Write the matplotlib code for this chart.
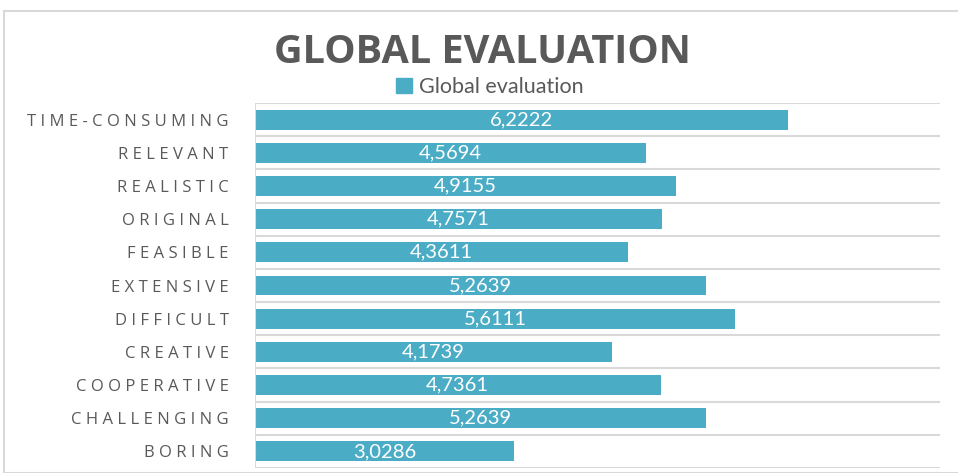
import matplotlib
matplotlib.use("Agg")
import matplotlib.pyplot as plt
from matplotlib.patches import Rectangle

categories = ["BORING", "CHALLENGING", "COOPERATIVE", "CREATIVE", "DIFFICULT",
              "EXTENSIVE", "FEASIBLE", "ORIGINAL", "REALISTIC", "RELEVANT",
              "TIME-CONSUMING"]
values = [3.0286, 5.2639, 4.7361, 4.1739, 5.6111, 5.2639, 4.3611, 4.7571,
          4.9155, 4.5694, 6.2222]
series_name = "Global evaluation"
title = "GLOBAL EVALUATION"

bar_color = "#4BACC6"
text_gray = "#595959"
grid_gray = "#D9D9D9"

fig = plt.figure(figsize=(9.58, 4.73), dpi=100)
ax = fig.add_axes([255/958, 1-468/473, 685/958, 365/473])

y = list(range(len(categories)))
ax.barh(y, values, height=0.6, color=bar_color, zorder=2)
ax.set_xlim(0, 8)
ax.set_ylim(-0.5, len(categories)-0.5)

for i in range(len(categories)+1):
    ax.axhline(i-0.5, color=grid_gray, lw=1.5, zorder=1)

for s in ax.spines.values():
    s.set_visible(False)
ax.axvline(0, color=grid_gray, lw=1.5, zorder=3)

ax.set_xticks([])
ax.set_yticks(y)
ax.set_yticklabels([" ".join(list(c)) for c in categories],
                   fontfamily="Open Sans", fontsize=12, color=text_gray)
ax.tick_params(axis="y", length=0, pad=19)

for yi, v in zip(y, values):
    ax.text(v/2, yi, f"{v:.4f}".replace(".", ","), ha="center", va="center",
            color="white", fontsize=14.5, fontfamily="Lato", zorder=4)

fig.text(0.504, 0.888, title, ha="center", va="center", fontsize=28.5,
         fontweight="bold", fontfamily="Open Sans", color=text_gray)

leg_handle = Rectangle((0, 0), 1, 1, color=bar_color)
fig.legend([leg_handle], [series_name], loc="center", bbox_to_anchor=(0.511, 0.816),
           frameon=False, prop={"family": "Lato", "size": 15.5},
           handlelength=0.75, handleheight=0.75, handletextpad=0.3,
           labelcolor=text_gray)

fig.patches.append(Rectangle((4/958, 0), 1, 1-11/473, transform=fig.transFigure,
                             fill=False, edgecolor=grid_gray, lw=1.5))

fig.savefig("out.png", dpi=100)
